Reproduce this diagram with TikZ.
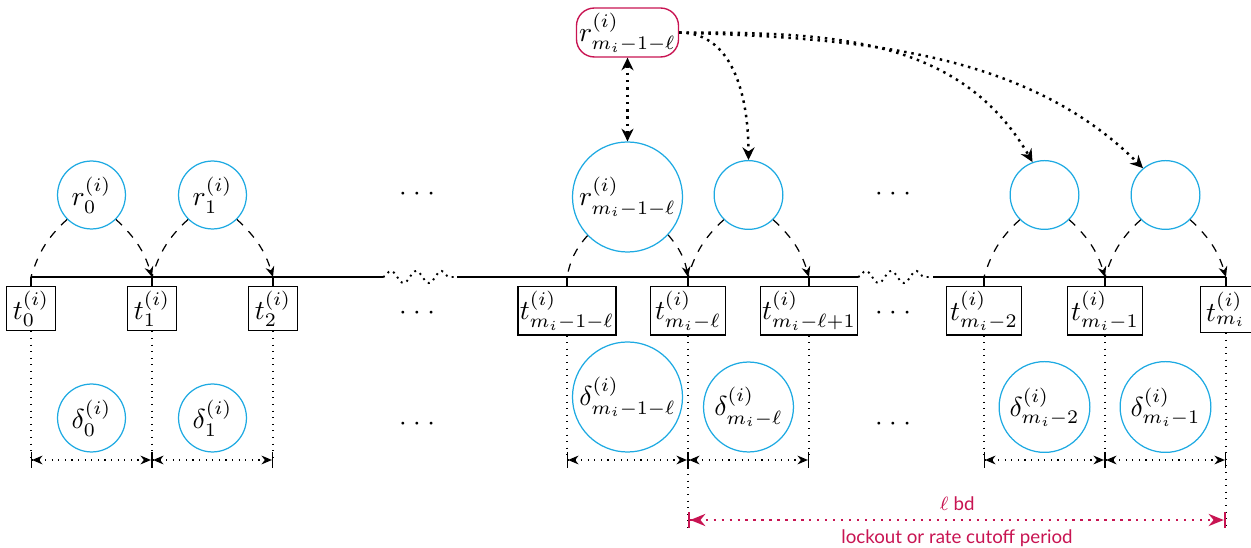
\documentclass[tikz,border=0pt]{standalone}
\usepackage{fontspec}
\newfontfamily\lato{Lato}
\usetikzlibrary{arrows.meta,decorations.pathmorphing}
\definecolor{rcyan}{RGB}{30,170,226}
\definecolor{rcrim}{RGB}{200,20,82}
\begin{document}
\begin{tikzpicture}[x=0.3636pt,y=0.3636pt,
  tl/.style={line width=0.55pt},
  brk/.style={line width=0.7pt,dash pattern=on 0.7pt off 1.6pt,decorate,decoration={snake,amplitude=2.2pt,segment length=9.2pt}},
  tbox/.style={draw,rectangle,inner sep=0pt,anchor=north,line width=0.5pt},
  rc/.style={draw=rcyan,circle,inner sep=0pt,line width=0.45pt},
  dotsnode/.style={inner sep=0pt},
  dasharc/.style={dashed,line width=0.45pt},
  dasharr/.style={dashed,line width=0.45pt,-{Stealth[length=3.8pt,width=3.2pt]}},
  vdot/.style={dotted,line width=0.4pt},
  dimarr/.style={dotted,line width=0.4pt,{Bar[width=5.5pt]Stealth[length=3.8pt,width=3.2pt]}-{Stealth[length=3.8pt,width=3.2pt]Bar[width=5.5pt]}},
  toparr/.style={line width=0.9pt,dash pattern=on 0.9pt off 1.75pt},
  toptip/.style={-{Stealth[length=4.6pt,width=4.4pt]}},
  lockarr/.style={rcrim,line width=0.8pt,dash pattern=on 0.8pt off 2.1pt,{Bar[width=5.5pt]Stealth[length=5.5pt,width=4.4pt]}-{Stealth[length=5.5pt,width=4.4pt]Bar[width=5.5pt]}},
  lbl/.style={text=rcrim,inner sep=0pt,font=\lato\fontsize{6.8pt}{8pt}\selectfont}
]
\useasboundingbox (0,0) rectangle (1251,548);

% timeline coordinates
\coordinate (T0) at (31,271);
\coordinate (T1) at (152,271);
\coordinate (T2) at (273,271);
\coordinate (T3) at (567,271);
\coordinate (T4) at (688,271);
\coordinate (T5) at (809,271);
\coordinate (T6) at (984,271);
\coordinate (T7) at (1105,271);
\coordinate (T8) at (1226,271);
\coordinate (B1a) at (383,271);
\coordinate (B1b) at (457,271);
\coordinate (B2a) at (858,271);
\coordinate (B2b) at (935,271);

\draw[tl] (T0) -- (B1a);
\draw[brk] (B1a) -- (B1b);
\draw[tl] (B1b) -- (B2a);
\draw[brk] (B2a) -- (B2b);
\draw[tl] (B2b) -- (T8);

% boxes
\node[tbox,minimum width=17.8pt,minimum height=16pt] (b0) at (31,262) {$t_0^{(i)}$};
\node[tbox,minimum width=17.8pt,minimum height=16pt] (b1) at (152,262) {$t_1^{(i)}$};
\node[tbox,minimum width=17.8pt,minimum height=16pt] (b2) at (273,262) {$t_2^{(i)}$};
\node[tbox,minimum width=35.6pt,minimum height=17.5pt] (b3) at (567,262) {$t_{m_i-1-\ell}^{(i)}$};
\node[tbox,minimum width=27.3pt,minimum height=17.5pt] (b4) at (688,262) {$t_{m_i-\ell}^{(i)}$};
\node[tbox,minimum width=35.3pt,minimum height=17.5pt] (b5) at (809,262) {$t_{m_i-\ell+1}^{(i)}$};
\node[tbox,minimum width=27.3pt,minimum height=17.5pt] (b6) at (984,262) {$t_{m_i-2}^{(i)}$};
\node[tbox,minimum width=27.3pt,minimum height=17.5pt] (b7) at (1105,262) {$t_{m_i-1}^{(i)}$};
\node[tbox,minimum width=18.5pt,minimum height=16.7pt] (b8) at (1226,262) {$t_{m_i}^{(i)}$};

\foreach \i in {0,...,8} \draw[tl] (T\i) -- (b\i.north);

% r circles
\node[rc,minimum size=24.7pt] (r0) at (91.5,353) {$r_0^{(i)}$};
\node[rc,minimum size=24.7pt] (r1) at (212.5,353) {$r_1^{(i)}$};
\node[rc,minimum size=40pt] (rA) at (627.5,351) {$r_{m_i-1-\ell}^{(i)}$};
\node[rc,minimum size=25pt] (rB) at (748.5,353) {};
\node[rc,minimum size=25pt] (rC) at (1044.5,353) {};
\node[rc,minimum size=25pt] (rD) at (1165.5,353) {};

% delta circles
\node[rc,minimum size=24.7pt] (d0) at (91.5,130) {$\delta_0^{(i)}$};
\node[rc,minimum size=24.7pt] (d1) at (212.5,130) {$\delta_1^{(i)}$};
\node[rc,minimum size=40pt] (dA) at (627.5,151) {$\delta_{m_i-1-\ell}^{(i)}$};
\node[rc,minimum size=32.7pt] (dB) at (748.5,141) {$\delta_{m_i-\ell}^{(i)}$};
\node[rc,minimum size=33pt] (dC) at (1044.5,141) {$\delta_{m_i-2}^{(i)}$};
\node[rc,minimum size=33pt] (dD) at (1165.5,141) {$\delta_{m_i-1}^{(i)}$};

% dots
\node[dotsnode] (e1) at (417,354) {$\cdotp\kern0.7pt\cdotp\kern0.7pt\cdotp$};
\node[dotsnode] (e2) at (417,235) {$\cdotp\kern0.7pt\cdotp\kern0.7pt\cdotp$};
\node[dotsnode] (e3) at (417,124) {$\cdotp\kern0.7pt\cdotp\kern0.7pt\cdotp$};
\node[dotsnode] (e4) at (893,354) {$\cdotp\kern0.7pt\cdotp\kern0.7pt\cdotp$};
\node[dotsnode] (e5) at (893,235) {$\cdotp\kern0.7pt\cdotp\kern0.7pt\cdotp$};
\node[dotsnode] (e6) at (893,124) {$\cdotp\kern0.7pt\cdotp\kern0.7pt\cdotp$};

% dashed arcs
\draw[dasharc] (r0.225) to[bend right=15] (T0);
\draw[dasharr] (r0.-45) to[bend left=15] (T1);
\draw[dasharc] (r1.225) to[bend right=15] (T1);
\draw[dasharr] (r1.-45) to[bend left=15] (T2);
\draw[dasharc] (rA.224) to[bend right=15] (T3);
\draw[dasharr] (rA.-43) to[bend left=15] (T4);
\draw[dasharc] (rB.225) to[bend right=15] (T4);
\draw[dasharr] (rB.-45) to[bend left=15] (T5);
\draw[dasharc] (rC.225) to[bend right=15] (T6);
\draw[dasharr] (rC.-45) to[bend left=15] (T7);
\draw[dasharc] (rD.225) to[bend right=15] (T7);
\draw[dasharr] (rD.-45) to[bend left=15] (T8);

% top node
\node[draw=rcrim,line width=0.5pt,rounded corners=6.5pt,minimum width=36pt,minimum height=17.8pt,inner sep=1pt] (top) at (627.5,515.5) {$r_{m_i-1-\ell}^{(i)}$};

\draw[toparr,{Stealth[length=4.6pt,width=4.4pt]}-{Stealth[length=4.6pt,width=4.4pt]}] (top.south) -- (rA.north);
\draw[toparr,toptip] (top.east) to[out=0,in=90] (rB.north);
\draw[toparr,toptip] (top.east) to[out=0,in=120] (rC.110);
\draw[toparr,toptip] (top.east) to[out=-2,in=135,looseness=0.9] (rD.130);

% vertical dotted lines and dimension arrows
\coordinate (D0) at (31,88);
\coordinate (D1) at (152,88);
\coordinate (D2) at (273,88);
\coordinate (D3) at (567,88);
\coordinate (D4) at (688,88);
\coordinate (D5) at (809,88);
\coordinate (D6) at (984,88);
\coordinate (D7) at (1105,88);
\coordinate (D8) at (1226,88);
\coordinate (E4) at (688,21);
\coordinate (E8) at (1226,21);
\coordinate (L4) at (688,28);
\coordinate (L8) at (1226,28);

\foreach \i in {0,1,2,3,5,6,7} \draw[vdot] (b\i.south) -- (D\i);
\draw[vdot] (b4.south) -- (E4);
\draw[vdot] (b8.south) -- (E8);

\draw[dimarr] (D0) -- (D1);
\draw[dimarr] (D1) -- (D2);
\draw[dimarr] (D3) -- (D4);
\draw[dimarr] (D4) -- (D5);
\draw[dimarr] (D6) -- (D7);
\draw[dimarr] (D7) -- (D8);

\draw[lockarr] (L4) -- (L8);
\node[lbl] (lab1) at (957,44) {$\ell$ bd};
\node[lbl] (lab2) at (957,10) {lockout or rate cutoff period};
\end{tikzpicture}
\end{document}
